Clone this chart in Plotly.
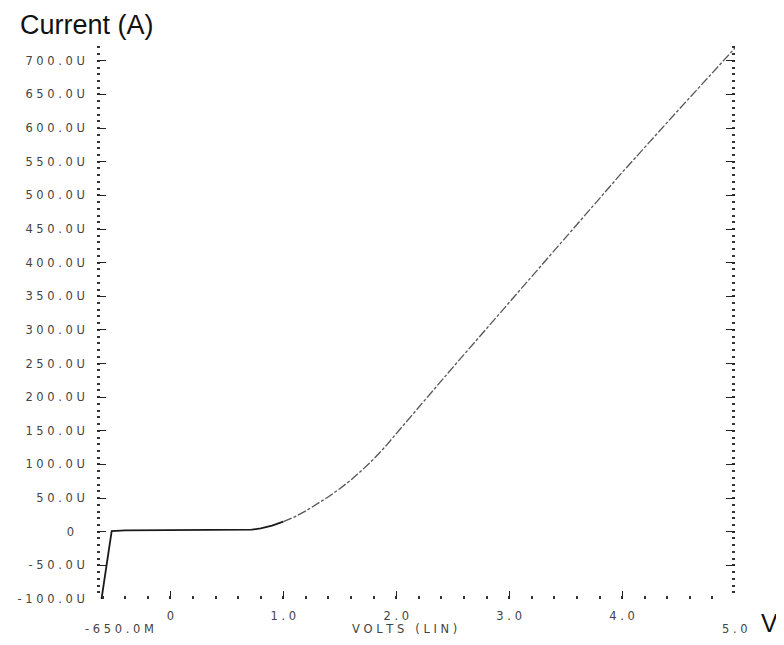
import plotly.graph_objects as go

# ---- data ----
volts = [-0.61, -0.52, -0.40, 0.00, 0.50, 0.65, 0.72, 0.80, 0.90, 1.00, 1.10, 1.20, 1.30,
         1.40, 1.50, 1.60, 1.70, 1.80, 1.90, 2.00, 2.25, 2.50, 3.00, 3.50, 4.00, 4.50, 5.00]
current_uA = [-100, 1, 2, 2, 2, 2, 3, 5, 9, 15, 22, 31, 41,
              52, 64, 77, 92, 108, 126, 146, 195, 244, 341, 438, 534, 627, 719]

y_tick_values = [-100, -50, 0, 50, 100, 150, 200, 250, 300, 350, 400, 450, 500, 550, 600, 650, 700]
y_tick_labels = ["-100.0U", "-50.0U", "0", "50.0U", "100.0U", "150.0U", "200.0U", "250.0U",
                 "300.0U", "350.0U", "400.0U", "450.0U", "500.0U", "550.0U", "600.0U",
                 "650.0U", "700.0U"]
x_tick_values = [0, 1, 2, 3, 4]
x_tick_labels = ["0", "1.0", "2.0", "3.0", "4.0"]
x_min_label = "-650.0M"
x_max_label = "5.0"
x_axis_title = "VOLTS (LIN)"
y_axis_title = "Current (A)"
unit_label = "V"

X_RANGE = [-0.65, 5.0]
Y_RANGE = [-100, 725]


def spaced(s):
    return " ".join(s)


y_text = []
for lab in y_tick_labels:
    t = spaced(lab)
    if lab == "0":
        t = t + "\u00a0\u00a0\u00a0"
    y_text.append(t)
x_text = [spaced(l) for l in x_tick_labels]

PLOT_FONT = dict(family="DejaVu Sans", size=11.5, color="#444444")

fig = go.Figure()

seg1_v = [v for v in volts if v <= 1.0]
seg1_i = [i for v, i in zip(volts, current_uA) if v <= 1.0]
seg2_v = [v for v in volts if v >= 1.0]
seg2_i = [i for v, i in zip(volts, current_uA) if v >= 1.0]

fig.add_trace(go.Scatter(x=seg1_v, y=seg1_i, mode="lines",
                         line=dict(color="#1a1a1a", width=1.8),
                         hoverinfo="skip"))
fig.add_trace(go.Scatter(x=seg2_v, y=seg2_i, mode="lines",
                         line=dict(color="#555555", width=1.3, dash="9px,2px,3px,2px"),
                         hoverinfo="skip"))

fig.update_xaxes(
    range=X_RANGE, showgrid=False, zeroline=False, showline=False, automargin=False,
    tickmode="array", tickvals=x_tick_values, ticktext=x_text,
    ticks="inside", ticklen=8, tickwidth=1.2, tickcolor="#222",
    tickfont=PLOT_FONT, ticklabelstandoff=8,
    minor=dict(ticks="inside", dtick=0.2, tick0=0, ticklen=3, tickwidth=1.5, tickcolor="#333"),
)
fig.update_yaxes(
    range=Y_RANGE, showgrid=False, zeroline=False, showline=False, automargin=False,
    tickmode="array", tickvals=y_tick_values, ticktext=y_text,
    ticks="inside", ticklen=9, tickwidth=1.2, tickcolor="#222", mirror="ticks",
    tickfont=PLOT_FONT, ticklabelstandoff=11,
    minor=dict(ticks="inside", dtick=10, tick0=0, ticklen=3, tickwidth=1.5, tickcolor="#333"),
)

annotations = [
    dict(text=y_axis_title, xref="paper", yref="paper", x=0.0, y=1.0, xshift=-79, yshift=36,
         xanchor="left", yanchor="top", showarrow=False,
         font=dict(family="Liberation Sans", size=27, color="#111")),
    dict(text=spaced(x_min_label), xref="paper", yref="paper", x=0.0, y=0.0, xshift=-14, yshift=-21,
         xanchor="left", yanchor="top", showarrow=False, font=PLOT_FONT),
    dict(text=spaced(x_max_label), xref="paper", yref="paper", x=1.0, y=0.0, yshift=-21,
         xanchor="center", yanchor="top", showarrow=False, font=PLOT_FONT),
    dict(text=spaced(x_axis_title), xref="paper", yref="paper", x=0.482, y=0.0, yshift=-21,
         xanchor="center", yanchor="top", showarrow=False, font=PLOT_FONT),
    dict(text=unit_label, xref="paper", yref="paper", x=1.0, y=0.0, xshift=24, yshift=-8,
         xanchor="left", yanchor="top", showarrow=False,
         font=dict(family="Liberation Sans", size=25, color="#111")),
]

# the page body adds an 8px margin, so the figure is sized to fit the 784x645 window
fig.update_layout(
    width=776, height=637,
    margin=dict(l=89, r=49, t=36, b=46, pad=0),
    paper_bgcolor="white", plot_bgcolor="white",
    showlegend=False,
    annotations=annotations,
)

fig.write_html("out.html")
